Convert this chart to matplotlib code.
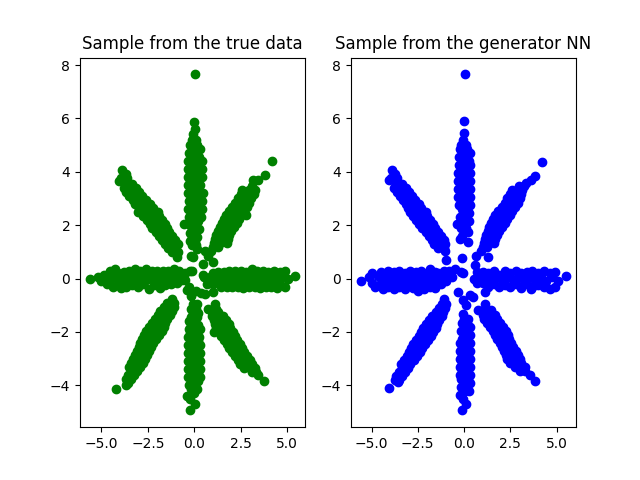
import matplotlib
matplotlib.use("Agg")
import matplotlib.pyplot as plt

# Data, arm by arm.
# Vertical / diagonal arms: rows of (y, [x values]); horizontal arms: rows of (x, [y values]).

# ---------------- true data (left panel) ----------------
true_up = [(7.65, [0.05]), (5.87, [0.0]), (5.6, [0.05]), (5.4, [-0.05]), (5.2, [0.1, -0.12]),
           (5.0, [-0.2, 0.15]), (4.85, [0.0, 0.3]), (4.7, [-0.3, 0.1]), (4.55, [0.25, -0.1]),
           (4.4, [-0.35, 0.05, 0.4]), (4.25, [-0.15, 0.2]), (4.1, [0.0, -0.35, 0.4]),
           (3.95, [0.2, -0.2]), (3.8, [-0.05, 0.4, -0.35]), (3.65, [0.15, -0.2]),
           (3.5, [-0.35, 0.3, 0.0]), (3.35, [-0.15, 0.2]), (3.2, [0.05, -0.35, 0.45]),
           (3.05, [-0.15, 0.2]), (2.9, [0.4, -0.3, 0.05]), (2.75, [-0.1, 0.25]),
           (2.6, [0.05, -0.35, 0.4]), (2.45, [-0.15, 0.2]), (2.3, [0.0, -0.3, 0.35]),
           (2.15, [-0.1, 0.2]), (2.05, [-0.55]), (2.0, [0.05, -0.25]), (1.85, [0.25, -0.1]),
           (1.7, [0.0, -0.25]), (1.55, [0.15, -0.1]), (1.4, [0.05, -0.2]), (1.25, [0.1, -0.1]),
           (1.1, [0.15]), (0.83, [-0.15])]
true_down = [(-4.94, [-0.2]), (-4.7, [0.05]), (-4.5, [-0.2]), (-4.4, [-0.4]), (-4.3, [0.0]),
             (-4.15, [-0.15, 0.15]), (-4.0, [0.05, -0.3]), (-3.85, [0.2, -0.1]),
             (-3.7, [-0.35, 0.0, 0.3]), (-3.55, [-0.15, 0.2]), (-3.4, [0.0, -0.35, 0.3]),
             (-3.25, [0.15, -0.15]), (-3.1, [-0.35, 0.0, 0.3]), (-2.95, [-0.15, 0.2]),
             (-2.8, [0.0, -0.35, 0.3]), (-2.65, [0.15, -0.2]), (-2.5, [-0.35, 0.0, 0.3]),
             (-2.35, [-0.15, 0.2]), (-2.2, [0.0, -0.35, 0.25]), (-2.05, [0.15, -0.2]),
             (-1.9, [-0.3, 0.0, 0.3]), (-1.75, [-0.15, 0.2]), (-1.6, [0.0, -0.3]),
             (-1.45, [0.15, -0.15]), (-1.3, [-0.05, 0.2]), (-1.15, [0.1, -0.15]),
             (-0.95, [-0.05, 0.13]), (-0.65, [-0.15]), (-0.45, [0.1]), (-0.3, [-0.3])]
true_nw = [(4.05, [-3.89]), (3.9, [-3.7]), (3.75, [-3.6, -3.95]), (3.65, [-4.05]),
           (3.55, [-3.35, -3.7]), (3.4, [-3.15, -3.5, -3.8]), (3.25, [-3.0, -3.35, -3.65]),
           (3.1, [-2.8, -3.15, -3.5]), (2.95, [-2.6, -2.95, -3.3]), (2.8, [-2.4, -2.8, -3.2]),
           (2.65, [-2.2, -2.6, -3.0]), (2.5, [-1.95, -2.3, -2.65, -3.05]),
           (2.35, [-1.9, -2.3, -2.75]), (2.2, [-1.75, -2.15, -2.55]), (2.05, [-1.6, -2.0, -2.4]),
           (1.9, [-1.45, -1.85, -2.25]), (1.75, [-1.35, -1.7, -2.05]), (1.6, [-1.2, -1.55, -1.9]),
           (1.45, [-1.05, -1.4, -1.75]), (1.3, [-0.9, -1.25, -1.6]), (1.15, [-1.05, -1.4]),
           (1.0, [-0.9, -1.2]), (0.8, [-0.95])]
true_sw = [(-0.75, [-1.22]), (-0.9, [-1.1, -1.45]), (-1.05, [-1.1, -1.4, -1.65]),
           (-1.2, [-1.2, -1.55, -1.85]), (-1.35, [-1.3, -1.65, -1.95]), (-1.5, [-1.45, -1.8, -2.1]),
           (-1.65, [-1.55, -1.9, -2.3]), (-1.8, [-1.65, -2.0, -2.45]), (-1.95, [-1.75, -2.15, -2.6]),
           (-2.1, [-1.9, -2.3, -2.7]), (-2.25, [-2.05, -2.45, -2.8]), (-2.4, [-2.2, -2.55, -2.9]),
           (-2.55, [-2.35, -2.7, -3.0]), (-2.7, [-2.45, -2.8, -3.1]), (-2.85, [-2.55, -2.9, -3.2]),
           (-3.0, [-2.65, -3.0, -3.3]), (-3.15, [-2.75, -3.1, -3.4]), (-3.3, [-2.9, -3.25, -3.5]),
           (-3.45, [-3.1, -3.4]), (-3.6, [-3.25, -3.55]), (-3.75, [-3.4, -3.65]), (-3.9, [-3.55]),
           (-4.0, [-3.69]), (-4.15, [-4.23])]
true_se = [(-0.5, [1.03]), (-0.95, [1.1]), (-1.13, [0.76, 1.2]), (-1.25, [0.95, 1.3]),
           (-1.4, [0.95, 1.25, 1.55]), (-1.55, [1.05, 1.4, 1.7]), (-1.7, [1.1, 1.45, 1.85]),
           (-1.85, [1.2, 1.55, 1.95]), (-2.0, [1.05, 1.35, 1.7, 2.1]), (-2.15, [1.45, 1.85, 2.2]),
           (-2.3, [1.6, 1.95, 2.3]), (-2.45, [1.75, 2.1, 2.45]), (-2.6, [1.9, 2.25, 2.55]),
           (-2.75, [2.05, 2.4, 2.7]), (-2.9, [2.2, 2.55, 2.85]), (-3.05, [2.35, 2.7, 3.0]),
           (-3.2, [2.45, 2.8, 3.1]), (-3.35, [2.7, 3.0, 3.3]), (-3.5, [3.1, 3.35]),
           (-3.63, [3.46]), (-3.82, [3.77])]
true_ne = [(4.39, [4.21]), (3.88, [3.81]), (3.69, [3.18, 3.45]), (3.45, [3.1]),
           (3.3, [2.6, 2.95, 3.3]), (3.15, [2.5, 2.85, 3.2]), (3.0, [2.35, 2.7, 3.05]),
           (2.85, [2.2, 2.55, 2.95]), (2.7, [2.05, 2.45, 2.85]), (2.55, [1.9, 2.3, 2.7]),
           (2.4, [1.7, 2.1, 2.5, 2.8]), (2.25, [1.6, 2.0, 2.4]), (2.1, [1.5, 1.9, 2.3]),
           (1.95, [1.4, 1.75, 2.15]), (1.8, [1.3, 1.65, 2.0]), (1.65, [1.2, 1.55, 1.9]),
           (1.5, [1.1, 1.45, 1.8]), (1.35, [1.05, 1.4, 1.75]), (1.2, [1.0, 1.3]),
           (1.05, [0.58, 0.9]), (0.85, [0.75]), (0.61, [1.03])]
true_left = [(-5.6, [-0.03]), (-5.2, [0.05]), (-5.0, [-0.1]), (-4.85, [0.15]), (-4.7, [-0.2, 0.1]),
             (-4.55, [0.3, -0.05]), (-4.4, [-0.3, 0.15]), (-4.25, [0.05, 0.35]), (-4.1, [-0.2, 0.2]),
             (-3.95, [0.0, -0.35]), (-3.8, [0.25, -0.1]), (-3.65, [-0.3, 0.1]), (-3.5, [0.3, -0.1]),
             (-3.35, [-0.25, 0.15]), (-3.2, [0.35, 0.0]), (-3.05, [-0.3, 0.15]), (-2.9, [0.0, 0.3]),
             (-2.75, [-0.2, 0.2]), (-2.6, [0.35, -0.05]), (-2.45, [-0.4, 0.15]), (-2.3, [0.0, 0.3]),
             (-2.15, [-0.25, 0.15]), (-2.0, [0.3, -0.05]), (-1.85, [-0.35, 0.15]), (-1.7, [0.0, 0.3]),
             (-1.55, [-0.25, 0.15]), (-1.4, [0.3, -0.05]), (-1.25, [-0.2, 0.2]), (-1.1, [0.0, 0.35]),
             (-0.95, [-0.15, 0.15]), (-0.8, [0.3]), (-0.65, [-0.05]), (-0.5, [0.2])]
true_right = [(5.44, [0.09]), (5.05, [0.0]), (4.9, [0.3, -0.3]), (4.75, [0.05]), (4.6, [-0.2, 0.25]),
              (4.45, [0.05, -0.35]), (4.3, [0.3, -0.15]), (4.15, [0.05, -0.3]), (4.0, [0.25, -0.1]),
              (3.85, [-0.3, 0.1]), (3.7, [0.3, -0.15]), (3.55, [0.05, -0.35]), (3.4, [0.3, -0.1]),
              (3.25, [-0.3, 0.1]), (3.1, [0.35, -0.1]), (2.95, [-0.3, 0.1]), (2.8, [0.25, -0.1]),
              (2.65, [-0.35, 0.1]), (2.5, [0.3, -0.1]), (2.35, [-0.3, 0.1]), (2.2, [0.3, -0.05]),
              (2.05, [-0.3, 0.1]), (1.9, [0.3, -0.1]), (1.75, [-0.3, 0.05]), (1.6, [0.25, -0.15]),
              (1.45, [0.1, -0.3]), (1.3, [0.25, -0.1]), (1.15, [0.05]), (1.0, [-0.2, 0.2]),
              (0.85, [0.05]), (0.7, [-0.2]), (0.55, [0.05])]
true_center_x = [-0.14, -0.23, 0.35, 0.58, -0.41, -0.5, -0.05, 0.49, 0.49]
true_center_y = [0.3, 0.3, -0.55, -0.56, -0.44, -0.06, 0.81, 0.56, 0.12]

# ---------------- generator samples (right panel) ----------------
gen_up = [(7.65, [0.04]), (5.9, [-0.02]), (5.45, [0.0]), (5.18, [-0.05]), (5.0, [0.1, -0.15]),
          (4.85, [-0.2, 0.15]), (4.7, [0.05, 0.3]), (4.55, [-0.25, 0.1]), (4.4, [0.25, -0.05]),
          (4.25, [-0.25, 0.05, 0.35]), (4.1, [0.15, -0.15]), (3.95, [-0.05, 0.35, -0.3]),
          (3.8, [0.1, -0.2]), (3.65, [0.3, -0.05, -0.3]), (3.5, [0.1, -0.15]),
          (3.35, [0.35, -0.05, -0.3]), (3.2, [0.15, -0.15]), (3.05, [-0.3, 0.0, 0.35]),
          (2.9, [-0.1, 0.2]), (2.75, [0.05, -0.25, 0.35]), (2.6, [-0.1, 0.15]), (2.45, [0.25, -0.05]),
          (2.3, [-0.2, 0.1]), (2.15, [0.25, -0.05]), (2.05, [-0.38]), (1.9, [0.1, -0.15]),
          (1.75, [0.2]), (1.6, [-0.1]), (1.49, [-0.2]), (1.36, [0.22]), (0.76, [-0.09])]
gen_down = [(-4.94, [-0.09]), (-4.69, [0.13]), (-4.5, [-0.05]), (-4.38, [-0.2]), (-4.2, [0.05, 0.25]),
            (-4.05, [-0.15, 0.15]), (-3.9, [0.3, 0.0]), (-3.75, [-0.15, 0.2]),
            (-3.6, [0.05, 0.35, -0.2]), (-3.45, [0.15, -0.1]), (-3.3, [0.3, 0.0, -0.2]),
            (-3.15, [0.15, -0.1]), (-3.0, [0.35, 0.05, -0.2]), (-2.85, [0.2, -0.1]),
            (-2.7, [0.0, 0.3, -0.2]), (-2.55, [0.15, -0.1]), (-2.4, [0.3, 0.0, -0.2]),
            (-2.25, [0.15, -0.1]), (-2.1, [0.3, 0.0]), (-1.95, [0.15, -0.15]), (-1.8, [0.05, 0.3]),
            (-1.65, [-0.1, 0.15]), (-1.5, [0.2, 0.0]), (-1.31, [-0.05]), (-1.0, [0.13]),
            (-0.8, [-0.05]), (-0.69, [0.49]), (-0.5, [-0.32])]
gen_nw = [(4.05, [-3.92]), (3.9, [-3.75]), (3.75, [-3.6, -3.95]), (3.68, [-4.05]), (3.55, [-3.35, -3.7]),
          (3.4, [-3.15, -3.5, -3.8]), (3.25, [-3.0, -3.3, -3.6]), (3.1, [-2.8, -3.15, -3.45]),
          (2.95, [-2.65, -3.0, -3.3]), (2.8, [-2.45, -2.8, -3.15]), (2.65, [-2.3, -2.65, -3.05]),
          (2.5, [-2.05, -2.45, -2.9]), (2.35, [-2.0, -2.35, -2.75]), (2.2, [-1.85, -2.2, -2.6]),
          (2.05, [-1.7, -2.05, -2.45]), (1.9, [-1.55, -1.9, -2.25]), (1.75, [-1.4, -1.75, -2.05]),
          (1.6, [-1.25, -1.6, -1.9]), (1.45, [-1.1, -1.45, -1.75]), (1.3, [-1.05, -1.35, -1.6]),
          (1.15, [-1.1, -1.4]), (1.05, [-1.04]), (0.68, [-0.95])]
gen_sw = [(-0.75, [-1.08]), (-0.94, [-1.0, -1.2]), (-1.1, [-1.05, -1.35]), (-1.25, [-1.15, -1.5]),
          (-1.4, [-1.2, -1.5, -1.75]), (-1.55, [-1.35, -1.65, -1.9]), (-1.7, [-1.45, -1.75, -2.05]),
          (-1.85, [-1.5, -1.85, -2.2]), (-2.0, [-1.65, -2.0, -2.35]), (-2.15, [-1.8, -2.15, -2.45]),
          (-2.3, [-1.95, -2.3, -2.6]), (-2.45, [-2.1, -2.45, -2.75]), (-2.6, [-2.25, -2.6, -2.85]),
          (-2.75, [-2.4, -2.7, -3.0]), (-2.9, [-2.55, -2.85, -3.1]), (-3.05, [-2.7, -3.0, -3.25]),
          (-3.2, [-2.9, -3.15, -3.4]), (-3.35, [-3.05, -3.35]), (-3.5, [-3.2, -3.5]),
          (-3.65, [-3.35, -3.65]), (-3.8, [-3.5, -3.75]), (-3.88, [-3.56]), (-4.09, [-4.05])]
gen_se = [(-0.5, [1.12]), (-0.94, [1.12]), (-1.19, [0.76, 1.1, 1.45]), (-1.35, [1.0, 1.35, 1.65]),
          (-1.5, [1.1, 1.45, 1.8]), (-1.65, [1.25, 1.6, 1.95]), (-1.8, [1.4, 1.75, 2.1]),
          (-1.95, [1.55, 1.9, 2.25]), (-2.1, [1.65, 2.0, 2.4]), (-2.25, [1.8, 2.15, 2.45]),
          (-2.4, [1.95, 2.25, 2.55]), (-2.55, [2.05, 2.35, 2.65]), (-2.7, [2.15, 2.45, 2.8]),
          (-2.85, [2.25, 2.55, 2.9]), (-3.0, [2.35, 2.7, 3.0]), (-3.15, [2.5, 2.85, 3.1]),
          (-3.3, [2.75, 3.05, 3.3]), (-3.45, [3.0, 3.3]), (-3.63, [3.55]), (-3.84, [3.82])]
gen_ne = [(4.35, [4.22]), (3.86, [3.82]), (3.7, [3.6]), (3.58, [3.37]), (3.45, [2.95, 3.25]),
          (3.3, [2.6, 2.9, 3.15]), (3.15, [2.5, 2.8, 3.1]), (3.0, [2.35, 2.65, 3.0]),
          (2.85, [2.2, 2.55, 2.9]), (2.7, [2.05, 2.4, 2.75]), (2.55, [1.85, 2.2, 2.6]),
          (2.4, [1.65, 2.05, 2.5]), (2.25, [1.55, 1.95, 2.35]), (2.1, [1.45, 1.8, 2.2]),
          (1.95, [1.35, 1.7, 2.05]), (1.8, [1.3, 1.6, 1.9]), (1.65, [1.2, 1.5, 1.8]),
          (1.5, [1.15, 1.4, 1.7]), (1.35, [1.1, 1.35, 1.6]), (1.2, [1.0, 1.25]),
          (1.05, [0.9]), (0.86, [0.67]), (0.8, [1.3]), (0.49, [0.58])]
gen_left = [(-5.58, [-0.09]), (-5.15, [0.05]), (-4.95, [0.2, -0.15]), (-4.8, [-0.3]), (-4.65, [0.1]),
            (-4.5, [0.25, -0.15]), (-4.38, [-0.4]), (-4.25, [0.15, -0.05]), (-4.1, [-0.3, 0.3]),
            (-3.95, [0.05, -0.2]), (-3.8, [0.25, -0.4]), (-3.65, [-0.1, 0.1]), (-3.5, [0.3, -0.3]),
            (-3.35, [0.0, -0.15]), (-3.2, [0.2, -0.4]), (-3.05, [0.05, -0.2]), (-2.9, [0.3, -0.1]),
            (-2.75, [-0.35, 0.1]), (-2.6, [0.25, -0.15]), (-2.49, [-0.45]), (-2.45, [0.0]),
            (-2.3, [0.3, -0.25]), (-2.15, [0.05, -0.4]), (-2.0, [0.2, -0.1]), (-1.85, [0.35, -0.3]),
            (-1.7, [0.05, -0.15]), (-1.55, [0.25, -0.35]), (-1.4, [0.0, 0.2]), (-1.25, [-0.2]),
            (-1.1, [0.3, 0.05]), (-0.95, [-0.1]), (-0.8, [0.3]), (-0.65, [0.05]), (-0.5, [0.35])]
gen_right = [(5.5, [0.09]), (5.1, [-0.1]), (4.9, [0.25, -0.3]), (4.75, [0.05]), (4.63, [-0.38, 0.2]),
             (4.45, [-0.1]), (4.3, [0.3, -0.3]), (4.15, [0.05]), (4.0, [-0.25, 0.2]), (3.85, [-0.05]),
             (3.7, [-0.3, 0.3]), (3.64, [-0.4]), (3.55, [0.1]), (3.4, [-0.2, 0.25]), (3.25, [-0.05]),
             (3.1, [-0.35, 0.2]), (2.95, [0.05]), (2.8, [-0.2, 0.3]), (2.65, [-0.05]), (2.5, [-0.3, 0.2]),
             (2.35, [0.05]), (2.2, [-0.25, 0.3]), (2.05, [-0.05]), (1.9, [-0.3, 0.15]), (1.75, [0.05]),
             (1.6, [-0.2, 0.3]), (1.45, [-0.05]), (1.3, [-0.3, 0.2]), (1.15, [0.05]), (1.0, [-0.15, 0.25]),
             (0.85, [0.0]), (0.7, [0.25, -0.15]), (0.55, [0.0])]
gen_center_x = [-0.14, -0.05, 0.3]
gen_center_y = [0.24, 0.19, -0.6]

titles = ["Sample from the true data", "Sample from the generator NN"]
colors = ["green", "blue"]


def collect(vert_arms, horiz_arms, cx, cy):
    xs, ys = list(cx), list(cy)
    for arm in vert_arms:
        for yv, xvals in arm:
            for xv in xvals:
                xs.append(xv)
                ys.append(yv)
    for arm in horiz_arms:
        for xv, yvals in arm:
            for yv in yvals:
                xs.append(xv)
                ys.append(yv)
    return xs, ys


true_xy = collect([true_up, true_down, true_nw, true_sw, true_se, true_ne],
                  [true_left, true_right], true_center_x, true_center_y)
gen_xy = collect([gen_up, gen_down, gen_nw, gen_sw, gen_se, gen_ne],
                 [gen_left, gen_right], gen_center_x, gen_center_y)

fig, axes = plt.subplots(1, 2, figsize=(6.4, 4.8), dpi=100)
for ax, (xs, ys), title, color in zip(axes, [true_xy, gen_xy], titles, colors):
    ax.scatter(xs, ys, color=color)
    ax.set_title(title)

fig.savefig("out.png")
